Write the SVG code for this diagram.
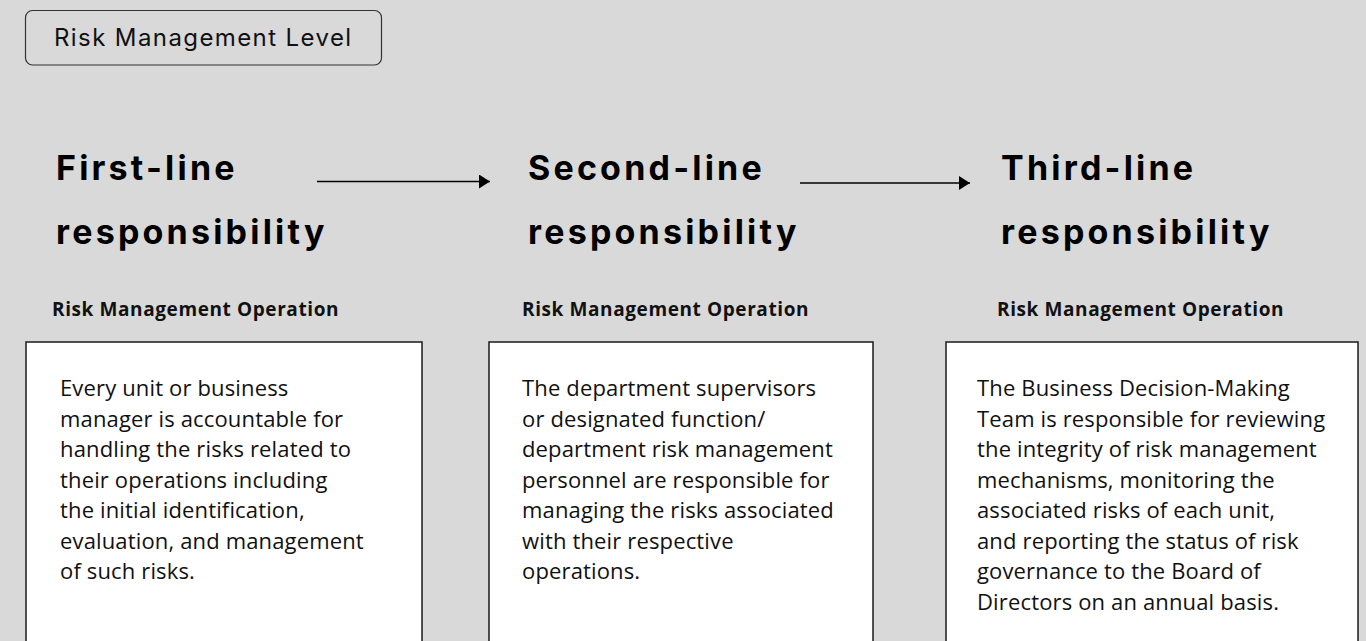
<svg xmlns="http://www.w3.org/2000/svg" width="1366" height="641" viewBox="0 0 1366 641">
  <defs>
    <marker id="arrowhead" viewBox="0 0 11 14" refX="11" refY="7" markerWidth="11" markerHeight="14" markerUnits="userSpaceOnUse" orient="auto">
      <path d="M0,0 L11,7 L0,14 Z" fill="#000"/>
    </marker>
    <style>
      .title { font-family: Inter, "Liberation Sans", sans-serif; font-size: 24px; letter-spacing: 1.4px; fill: #111; }
      .head { font-family: Inter, "Liberation Sans", sans-serif; font-weight: 700; font-size: 34px; letter-spacing: 3.2px; fill: #000; }
      .sub { font-family: "Open Sans", "Liberation Sans", sans-serif; font-weight: 700; font-size: 19px; letter-spacing: 0.6px; fill: #111; }
      .body { font-family: "Open Sans", "Liberation Sans", sans-serif; font-size: 22px; letter-spacing: 0.15px; fill: #111; }
      .card { fill: #fff; stroke: #1a1a1a; stroke-width: 1.5; }
      .conn { stroke: #000; stroke-width: 1.5; fill: none; }
    </style>
  </defs>

  <rect width="1366" height="641" fill="#d9d9d9"/>

  <g id="level-label">
    <rect x="25.5" y="10.5" width="356" height="54.5" rx="7" fill="none" stroke="#333" stroke-width="1.2"/>
    <text class="title" x="54" y="46">Risk Management Level</text>
  </g>

  <g id="first-line">
    <text class="head" x="56" y="180">First-line</text>
    <text class="head" x="56" y="244">responsibility</text>
    <text class="sub" x="52" y="316">Risk Management Operation</text>
    <rect class="card" x="26" y="342" width="396" height="320"/>
    <text class="body">
      <tspan x="60" y="396">Every unit or business</tspan>
      <tspan x="60" y="426.5">manager is accountable for</tspan>
      <tspan x="60" y="457">handling the risks related to</tspan>
      <tspan x="60" y="487.5">their operations including</tspan>
      <tspan x="60" y="518">the initial identification,</tspan>
      <tspan x="60" y="548.5">evaluation, and management</tspan>
      <tspan x="60" y="579">of such risks.</tspan>
    </text>
  </g>

  <g id="second-line">
    <text class="head" x="528" y="180">Second-line</text>
    <text class="head" x="528" y="244">responsibility</text>
    <text class="sub" x="522" y="316">Risk Management Operation</text>
    <rect class="card" x="489" y="342" width="384" height="320"/>
    <text class="body">
      <tspan x="522" y="396">The department supervisors</tspan>
      <tspan x="522" y="426.5">or designated function/</tspan>
      <tspan x="522" y="457">department risk management</tspan>
      <tspan x="522" y="487.5">personnel are responsible for</tspan>
      <tspan x="522" y="518">managing the risks associated</tspan>
      <tspan x="522" y="548.5">with their respective</tspan>
      <tspan x="522" y="579">operations.</tspan>
    </text>
  </g>

  <g id="third-line">
    <text class="head" x="1001" y="180">Third-line</text>
    <text class="head" x="1001" y="244">responsibility</text>
    <text class="sub" x="997" y="316">Risk Management Operation</text>
    <rect class="card" x="946" y="342" width="412" height="320"/>
    <text class="body">
      <tspan x="977" y="396">The Business Decision-Making</tspan>
      <tspan x="977" y="426.5">Team is responsible for reviewing</tspan>
      <tspan x="977" y="457">the integrity of risk management</tspan>
      <tspan x="977" y="487.5">mechanisms, monitoring the</tspan>
      <tspan x="977" y="518">associated risks of each unit,</tspan>
      <tspan x="977" y="548.5">and reporting the status of risk</tspan>
      <tspan x="977" y="579">governance to the Board of</tspan>
      <tspan x="977" y="609.5">Directors on an annual basis.</tspan>
    </text>
  </g>

  <g id="connectors">
    <line class="conn" x1="317" y1="181.5" x2="490" y2="181.5" marker-end="url(#arrowhead)"/>
    <line class="conn" x1="800" y1="183" x2="970" y2="183" marker-end="url(#arrowhead)"/>
  </g>
</svg>
